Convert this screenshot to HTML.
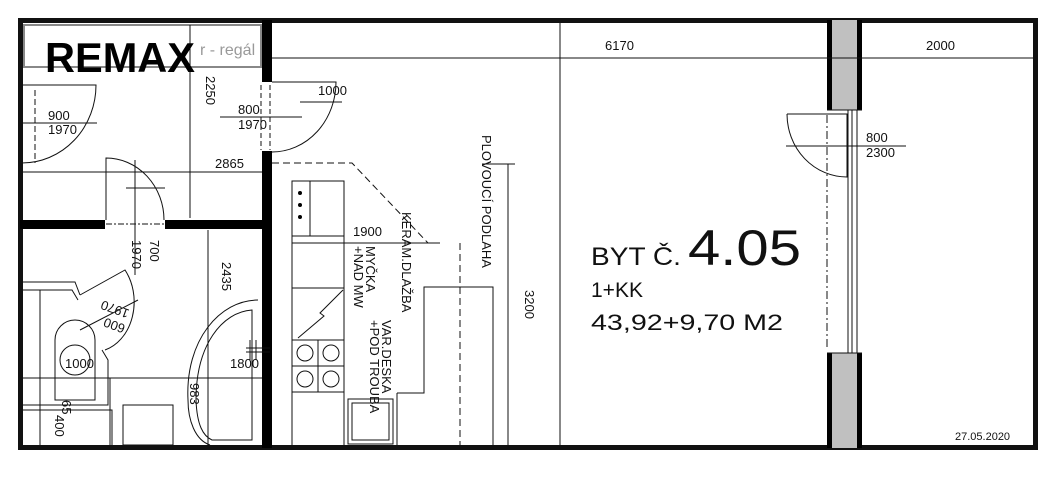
<!DOCTYPE html>
<html><head><meta charset="utf-8"><style>
html,body{margin:0;padding:0;background:#fff;}
svg{display:block;}
text{font-family:"Liberation Sans","DejaVu Sans",sans-serif;fill:#111;}
</style></head><body>
<svg width="1056" height="480" viewBox="0 0 1056 480" xmlns="http://www.w3.org/2000/svg">
<rect width="1056" height="480" fill="#fff"/>
<g stroke="#111" fill="none" stroke-width="1">
<rect x="20.5" y="20.5" width="1015" height="427" stroke-width="5"/>
<rect x="262" y="20" width="10" height="62" fill="#000" stroke="none"/>
<rect x="262" y="151" width="10" height="297" fill="#000" stroke="none"/>
<rect x="20" y="220" width="85" height="9" fill="#000" stroke="none"/>
<rect x="165" y="220" width="97" height="9" fill="#000" stroke="none"/>
<rect x="827" y="20" width="35" height="90" fill="#c0c0c0" stroke="none"/>
<rect x="827" y="20" width="5" height="90" fill="#000" stroke="none"/>
<rect x="857" y="20" width="5" height="90" fill="#000" stroke="none"/>
<rect x="827" y="353" width="35" height="95" fill="#c0c0c0" stroke="none"/>
<rect x="827" y="353" width="5" height="95" fill="#000" stroke="none"/>
<rect x="857" y="353" width="5" height="95" fill="#000" stroke="none"/>
<line x1="827" y1="110" x2="862" y2="110"/><line x1="827" y1="353" x2="862" y2="353"/>
<line x1="848" y1="110" x2="848" y2="353"/><line x1="852" y1="110" x2="852" y2="353"/>
<line x1="857" y1="110" x2="857" y2="353"/>
<line x1="827" y1="115" x2="827" y2="350" stroke-dasharray="8 3 2 3"/>
<path d="M787 114 L847 114 L847 177 A60 63 0 0 1 787 114"/>
<line x1="786" y1="146" x2="906" y2="146"/>
<rect x="24" y="25" width="237" height="42" stroke="#888" stroke-width="2"/>
<line x1="272" y1="58" x2="1033" y2="58"/>
<line x1="560" y1="23" x2="560" y2="445"/>
<line x1="190" y1="25" x2="190" y2="218"/>
<line x1="22" y1="172" x2="262" y2="172"/>
<line x1="208" y1="230" x2="208" y2="445"/>
<line x1="22" y1="378" x2="262" y2="378"/>
<line x1="40" y1="290" x2="40" y2="445"/>
<path d="M22 85 L96 85 A74 78 0 0 1 22 163"/>
<line x1="35" y1="90" x2="35" y2="163" stroke-dasharray="6 3"/>
<line x1="20" y1="123" x2="97" y2="123"/>
<path d="M106 220 L106 158 A58 62 0 0 1 164 220"/>
<line x1="126" y1="188" x2="165" y2="188"/>
<line x1="135" y1="160" x2="135" y2="275"/>
<line x1="106" y1="224" x2="164" y2="224" stroke-dasharray="6 2 2 2"/>
<path d="M272 82 L336 82 A64 70 0 0 1 272 152"/>
<line x1="220" y1="117" x2="302" y2="117"/>
<line x1="300" y1="102" x2="342" y2="102"/>
<line x1="261" y1="85" x2="261" y2="150" stroke-dasharray="5 3"/>
<line x1="270" y1="85" x2="270" y2="150" stroke-dasharray="5 3"/>
<path d="M22 282 L75 282 L80 295 M22 290 L72 290 L78 300"/>
<path d="M80 295 L125 270 A40 50 0 0 1 105 350" />
<line x1="80" y1="330" x2="138" y2="300"/>
<path d="M55 340 A20 20 0 0 1 95 340 L95 400 L55 400 Z"/>
<circle cx="75" cy="360" r="15"/>
<path d="M102 350 L108 360 L108 405 L22 405 M22 410 L112 410 L112 445"/>
<rect x="123" y="405" width="50" height="40"/>
<line x1="110" y1="378" x2="110" y2="445"/>
<path d="M258 300 C220 300 185 340 188 400 C188 420 195 440 210 445"/>
<path d="M252 310 C222 312 196 345 196 400 C197 425 203 436 212 440 L252 440 Z"/>
<line x1="246" y1="348" x2="270" y2="348"/><line x1="246" y1="352" x2="270" y2="352"/>
<line x1="250" y1="340" x2="250" y2="360"/><line x1="256" y1="340" x2="256" y2="360"/>
<path d="M272 163 L352 163 L428 243" stroke-dasharray="7 4"/>
<line x1="460" y1="243" x2="460" y2="445" stroke-dasharray="7 4"/>
<rect x="292" y="181" width="52" height="55"/>
<line x1="310" y1="181" x2="310" y2="236"/>
<line x1="292" y1="243" x2="440" y2="243"/>
<line x1="344" y1="181" x2="344" y2="445"/>
<line x1="292" y1="288" x2="344" y2="288"/>
<rect x="292" y="340" width="52" height="52"/>
<line x1="318" y1="340" x2="318" y2="392"/><line x1="292" y1="366" x2="344" y2="366"/>
<circle cx="305" cy="353" r="8"/><circle cx="331" cy="353" r="8"/>
<circle cx="305" cy="379" r="8"/><circle cx="331" cy="379" r="8"/>
<path d="M343 290 L320 313 L324 316 L298 338"/>
<rect x="348" y="399" width="45" height="45"/><rect x="352" y="403" width="37" height="37"/>
<path d="M397 393 L397 445 M397 393 L424 393 L424 287 L493 287 L493 445"/>
<line x1="508" y1="164" x2="508" y2="445"/>
<line x1="482" y1="164" x2="515" y2="164"/>
<line x1="292" y1="445" x2="292" y2="181"/>
</g>
<g fill="#000">
<circle cx="300" cy="193" r="2"/><circle cx="300" cy="205" r="2"/><circle cx="300" cy="217" r="2"/>
</g>
<text x="200" y="55" font-size="16" style="fill:#999">r - regál</text>
<text x="45" y="72" font-size="42" font-weight="bold" textLength="150" lengthAdjust="spacingAndGlyphs" style="fill:#000">REMAX</text>
<g font-size="13">
<text x="605" y="50">6170</text>
<text x="926" y="50">2000</text>
<text x="866" y="142">800</text><text x="866" y="157">2300</text>
<text x="48" y="120">900</text><text x="48" y="134">1970</text>
<text x="238" y="114">800</text><text x="238" y="129">1970</text>
<text x="318" y="95">1000</text>
<text x="215" y="168">2865</text>
<text x="353" y="236">1900</text>
<text x="230" y="368">1800</text>
<text x="65" y="368">1000</text>
<text transform="translate(206,76) rotate(90)">2250</text>
<text transform="translate(150,240) rotate(90)">700</text>
<text transform="translate(132,240) rotate(90)">1970</text>
<text transform="translate(222,262) rotate(90)">2435</text>
<text transform="translate(190,383) rotate(90)">983</text>
<text transform="translate(62,400) rotate(90)">65</text>
<text transform="translate(55,415) rotate(90)">400</text>
<text transform="translate(525,290) rotate(90)">3200</text>
<text transform="translate(126,325) rotate(-160)">600</text>
<text transform="translate(130,310) rotate(-160)">1970</text>
<text transform="translate(482,135) rotate(90)">PLOVOUCÍ PODLAHA</text>
<text transform="translate(402,212) rotate(90)">KERAM.DLAŽBA</text>
<text transform="translate(366,246) rotate(90)">MYČKA</text>
<text transform="translate(354,246) rotate(90)">+NAD MW</text>
<text transform="translate(382,320) rotate(90)">VAR.DESKA</text>
<text transform="translate(370,320) rotate(90)">+POD TROUBA</text>
</g>
<text x="591" y="265" font-size="25" textLength="90" lengthAdjust="spacingAndGlyphs">BYT Č.</text>
<text x="688" y="265" font-size="50" textLength="113" lengthAdjust="spacingAndGlyphs">4.05</text>
<text x="591" y="297" font-size="21">1+KK</text>
<text x="591" y="330" font-size="22" textLength="192" lengthAdjust="spacingAndGlyphs">43,92+9,70  M2</text>
<text x="955" y="440" font-size="11">27.05.2020</text>
</svg>
</body></html>
